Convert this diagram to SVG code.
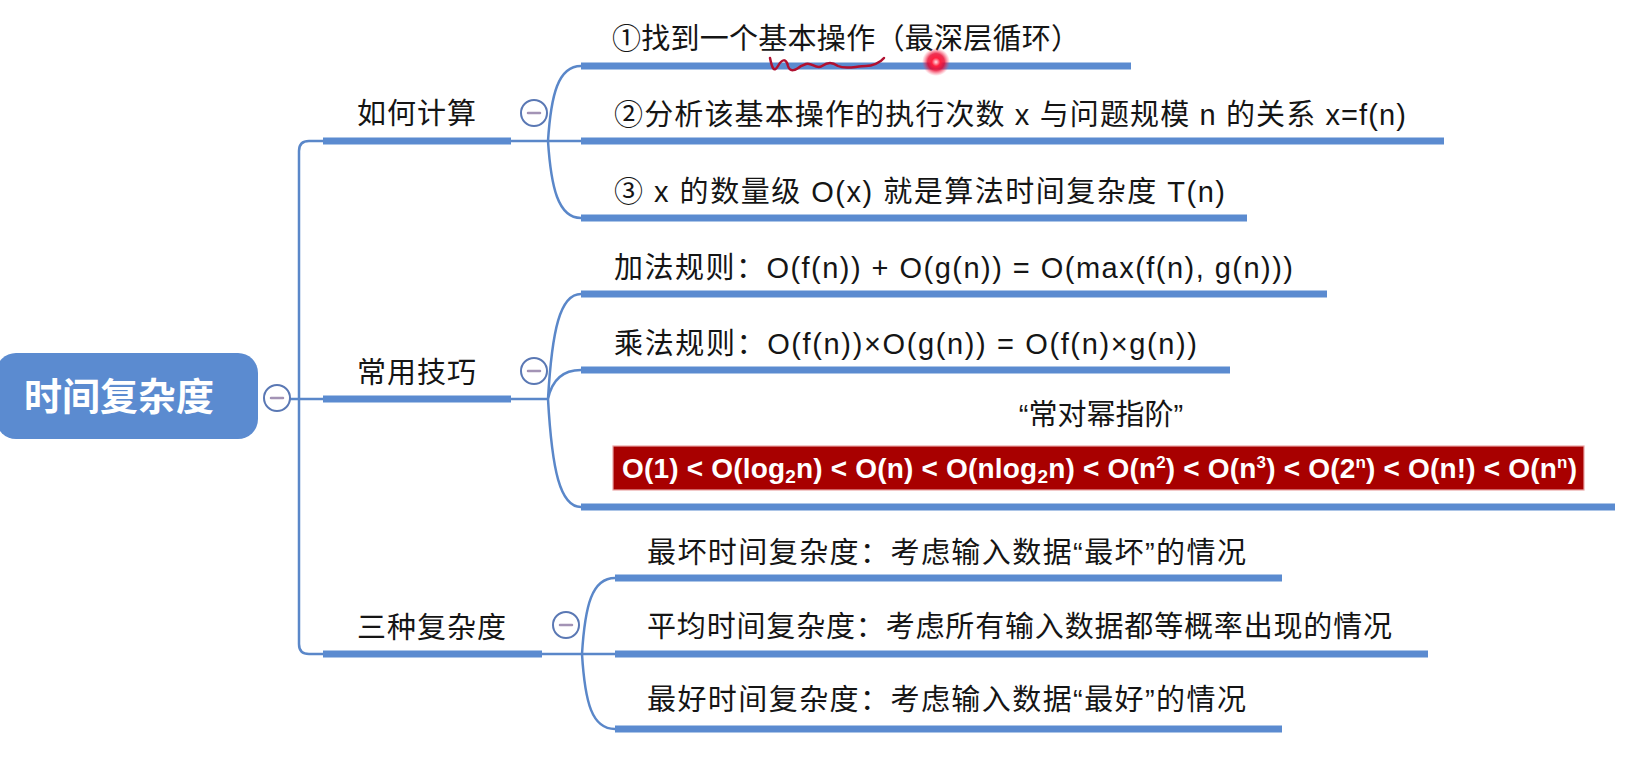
<svg xmlns="http://www.w3.org/2000/svg" width="1634" height="780" viewBox="0 0 1634 780">
<defs>
<style>
.conn{fill:none;stroke:#5a87c9;stroke-width:2.5;stroke-linecap:round}
.bar{stroke:#5b8bd0;stroke-width:7;stroke-linecap:butt}
.t1{font-family:"Liberation Sans","Noto Sans CJK SC",sans-serif;font-size:29px;fill:#151515}
.t2{font-family:"Liberation Sans","Noto Sans CJK SC",sans-serif;font-size:29px;fill:#151515}
.ring{fill:#fff;stroke:#5a78b4;stroke-width:2}
.dash{stroke:#a393b5;stroke-width:2.5;stroke-linecap:round}
.root{fill:#5b8bd0}
.roott{font-family:"Noto Sans CJK SC",sans-serif;font-weight:bold;font-size:38px;fill:#fff}
.red{fill:#a80000;stroke:#eaa5a5;stroke-width:1.2}
.redt{font-family:"Liberation Sans",sans-serif;font-weight:bold;font-size:28px;fill:#fff}
</style>
<radialGradient id="laser" cx="0.5" cy="0.5" r="0.5">
<stop offset="0" stop-color="#ffe0e6"/>
<stop offset="0.3" stop-color="#ff2040"/>
<stop offset="0.6" stop-color="#e8002a" stop-opacity="0.8"/>
<stop offset="1" stop-color="#ff4060" stop-opacity="0"/>
</radialGradient>
</defs>
<rect width="1634" height="780" fill="#fff"/>

<g id="connectors">
<path class="conn" d="M323,141 L309,141 Q299,141 299,151 L299,644 Q299,654 309,654 L323,654"/>
<path class="conn" d="M290,399 L323,399"/>
<path class="conn" d="M511,141 L548,141 M548,141 C551,95 558,66 581,66 M548,141 L581,141 M548,141 C551,187 558,218 581,218"/>
<path class="conn" d="M511,399 L548,399 M548,399 C552,330 560,294 581,294 M548,399 C552,380 562,370 581,370 M548,399 C552,470 560,507 581,507"/>
<path class="conn" d="M542,654 L582,654 M582,654 C585,605 592,578 615,578 M582,654 L615,654 M582,654 C585,703 592,729 615,729"/>
</g>

<g id="root">
<rect class="root" x="-4" y="353" width="262" height="86" rx="20"/>
<text class="roott" x="119" y="410" text-anchor="middle">时间复杂度</text>
<circle class="ring" cx="277" cy="398" r="13"/>
<line class="dash" x1="271" y1="398" x2="283" y2="398"/>
</g>

<g id="n-calc">
<line class="bar" x1="323" y1="141" x2="511" y2="141"/>
<text class="t1" x="357" y="124" textLength="119">如何计算</text>
<circle class="ring" cx="534" cy="113" r="13"/>
<line class="dash" x1="528" y1="113" x2="540" y2="113"/>
</g>
<g id="n-calc-1">
<line class="bar" x1="581" y1="66" x2="1131" y2="66"/>
<text class="t2" x="612" y="49" textLength="468">①找到一个基本操作（最深层循环）</text>
</g>
<g id="n-calc-2">
<line class="bar" x1="581" y1="141" x2="1444" y2="141"/>
<text class="t2" x="614" y="125" textLength="792">②分析该基本操作的执行次数 x 与问题规模 n 的关系 x=f(n)</text>
</g>
<g id="n-calc-3">
<line class="bar" x1="581" y1="218" x2="1247" y2="218"/>
<text class="t2" x="614" y="202" textLength="611">③ x 的数量级 O(x) 就是算法时间复杂度 T(n)</text>
</g>

<g id="n-tips">
<line class="bar" x1="323" y1="399" x2="511" y2="399"/>
<text class="t1" x="357" y="383" textLength="119">常用技巧</text>
<circle class="ring" cx="534" cy="371" r="13"/>
<line class="dash" x1="528" y1="371" x2="540" y2="371"/>
</g>
<g id="n-tips-add">
<line class="bar" x1="581" y1="294" x2="1327" y2="294"/>
<text class="t2" x="614" y="278" textLength="679">加法规则：O(f(n)) + O(g(n)) = O(max(f(n), g(n)))</text>
</g>
<g id="n-tips-mul">
<line class="bar" x1="581" y1="370" x2="1230" y2="370"/>
<text class="t2" x="614" y="354" textLength="583">乘法规则：O(f(n))×O(g(n)) = O(f(n)×g(n))</text>
</g>
<g id="n-tips-order">
<line class="bar" x1="581" y1="507" x2="1615" y2="507"/>
<text class="t2" x="1101" y="425" text-anchor="middle">“常对幂指阶”</text>
<rect class="red" x="613" y="446" width="971" height="44"/>
<text class="redt" x="622" y="478" textLength="955">O(1) &lt; O(log<tspan font-size="19" baseline-shift="-5">2</tspan>n) &lt; O(n) &lt; O(nlog<tspan font-size="19" baseline-shift="-5">2</tspan>n) &lt; O(n<tspan font-size="17" baseline-shift="10">2</tspan>)  &lt; O(n<tspan font-size="17" baseline-shift="10">3</tspan>) &lt; O(2<tspan font-size="17" baseline-shift="10">n</tspan>) &lt; O(n!) &lt; O(n<tspan font-size="17" baseline-shift="10">n</tspan>)</text>
</g>

<g id="n-three">
<line class="bar" x1="323" y1="654" x2="542" y2="654"/>
<text class="t1" x="357" y="638" textLength="149">三种复杂度</text>
<circle class="ring" cx="566" cy="625" r="13"/>
<line class="dash" x1="560" y1="625" x2="572" y2="625"/>
</g>
<g id="n-three-worst">
<line class="bar" x1="615" y1="578" x2="1282" y2="578"/>
<text class="t2" x="647" y="563" textLength="599">最坏时间复杂度：考虑输入数据“最坏”的情况</text>
</g>
<g id="n-three-avg">
<line class="bar" x1="615" y1="654" x2="1428" y2="654"/>
<text class="t2" x="647" y="637" textLength="745">平均时间复杂度：考虑所有输入数据都等概率出现的情况</text>
</g>
<g id="n-three-best">
<line class="bar" x1="615" y1="729" x2="1282" y2="729"/>
<text class="t2" x="647" y="710" textLength="599">最好时间复杂度：考虑输入数据“最好”的情况</text>
</g>

<g id="annotation">
<path d="M770,58 C772,68 774,73 778,66 C782,59 786,58 788,66 C790,73 796,70 801,66 L806,64 C812,62 816,70 822,66 C828,62 832,62 838,66 C846,70 856,66 866,66 C872,66 880,63 884,58" fill="none" stroke="#b01030" stroke-width="2.5" stroke-linecap="round"/>
<circle cx="936" cy="62" r="14" fill="url(#laser)"/>
</g>
</svg>
